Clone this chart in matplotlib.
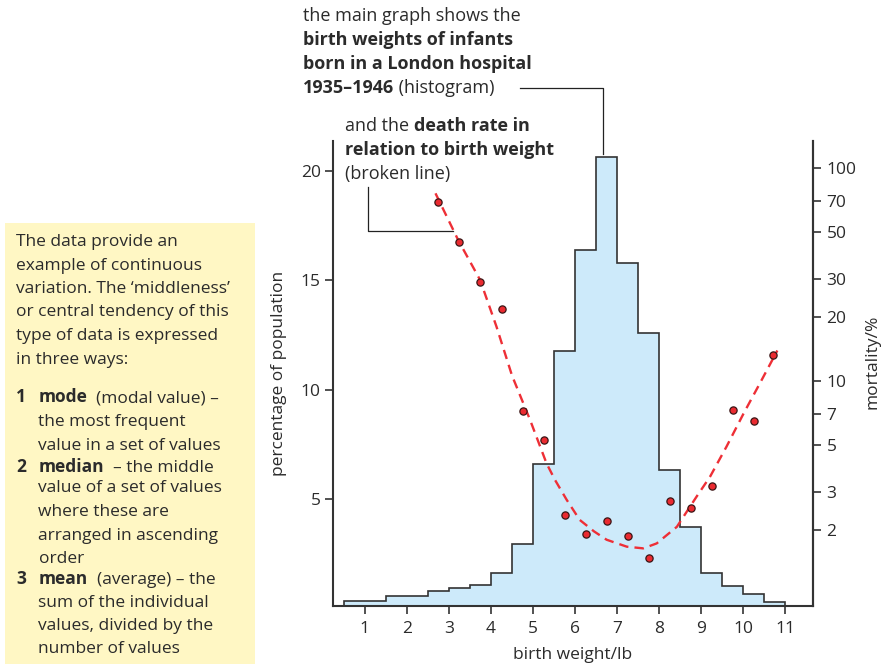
import matplotlib
matplotlib.use("Agg")
import matplotlib.pyplot as plt
from matplotlib.lines import Line2D
from matplotlib.patches import Rectangle
from matplotlib.ticker import FixedLocator, FixedFormatter, NullLocator

plt.rcParams['font.family'] = ['Open Sans', 'DejaVu Sans']

TXT = '#2b2b2b'
AX = '#333333'
BLUE = '#cdeafa'
RED = '#ee2f36'
YELLOW = '#fff7c4'

# ---------------- data ----------------
bin_edges = [0.5, 1.5, 2.5, 3, 3.5, 4, 4.5, 5, 5.5, 6, 6.5, 7, 7.5, 8, 8.5, 9, 9.5, 10, 10.5, 11]
percent_pop = [0.35, 0.57, 0.78, 0.92, 1.05, 1.60, 2.96, 6.61, 11.74, 16.36, 20.62,
               15.76, 12.57, 6.34, 3.72, 1.60, 1.04, 0.64, 0.31]

mort_x = [2.75, 3.25, 3.75, 4.25, 4.75, 5.25, 5.75, 6.25, 6.75, 7.25, 7.75,
          8.25, 8.75, 9.25, 9.75, 10.25, 10.7]
mort_pct = [69.3, 44.9, 29.2, 21.7, 7.21, 5.27, 2.34, 1.91, 2.21, 1.87, 1.47,
            2.74, 2.54, 3.22, 7.29, 6.52, 13.2]

curve_x = [2.68, 3.22, 3.74, 4.13, 4.50, 4.93, 5.32, 5.52, 5.80, 6.11, 6.45, 6.75,
           7.23, 7.62, 7.94, 8.42, 8.89, 9.21, 9.60, 10.0, 10.40, 10.81]
curve_pct = [75.9, 45.8, 29.8, 18.0, 10.6, 6.56, 4.11, 3.44, 2.77, 2.23, 1.97, 1.80,
             1.67, 1.64, 1.73, 2.07, 2.87, 3.56, 4.92, 7.0, 9.8, 13.9]

x_ticks = [1, 2, 3, 4, 5, 6, 7, 8, 9, 10, 11]
left_ticks = [5, 10, 15, 20]
right_ticks = [2, 3, 5, 7, 10, 20, 30, 50, 70, 100]

# ---------------- figure ----------------
W, H = 884, 664
fig = plt.figure(figsize=(W / 100, H / 100), dpi=100)

def fx(px):
    return px / W

def fy(py):
    return 1 - py / H

AX_L, AX_R, AX_T, AX_B = 333.3, 812.7, 140.7, 606
ax = fig.add_axes([fx(AX_L), fy(AX_B), fx(AX_R) - fx(AX_L), fy(AX_T) - fy(AX_B)])
ax.set_xlim(0.25, 11.65)
ax.set_ylim(0.11, 21.37)

ax.stairs(percent_pop, bin_edges, fill=True, color=BLUE, zorder=1)
ax.stairs(percent_pop, bin_edges, baseline=0, color=AX, linewidth=1.2, zorder=2)

ax.spines['top'].set_visible(False)
for s in ['left', 'bottom', 'right']:
    ax.spines[s].set_linewidth(1.5)
    ax.spines[s].set_color(AX)

ax.set_xticks(x_ticks)
ax.set_xticklabels([str(v) for v in x_ticks])
ax.set_yticks(left_ticks)
ax.set_yticklabels([str(v) for v in left_ticks])
ax.tick_params(axis='x', length=6, width=1.2, color=AX, labelsize=12.5, labelcolor=TXT, pad=5)
ax.tick_params(axis='y', length=6, width=1.2, color=AX, labelsize=12.5, labelcolor=TXT, pad=3)
ax.set_xlabel('birth weight/lb', fontsize=12.5, color=TXT, labelpad=7)
ax.set_ylabel('percentage of population', fontsize=12.5, color=TXT, labelpad=10)

ax2 = ax.twinx()
ax2.set_yscale('log')
ax2.set_ylim(0.88, 134)
ax2.yaxis.set_major_locator(FixedLocator(right_ticks))
ax2.yaxis.set_major_formatter(FixedFormatter([str(v) for v in right_ticks]))
ax2.yaxis.set_minor_locator(NullLocator())
ax2.tick_params(axis='y', length=6, width=1.2, color=AX, labelsize=12.5, labelcolor=TXT, pad=4)
for s in ['top', 'left', 'bottom']:
    ax2.spines[s].set_visible(False)
ax2.spines['right'].set_linewidth(1.5)
ax2.spines['right'].set_color(AX)
ax2.set_ylabel('mortality/%', fontsize=12.5, color=TXT)
ax2.yaxis.set_label_coords((872 - AX_L) / (AX_R - AX_L), (AX_B - 362) / (AX_B - AX_T))
ax2.yaxis.label.set_va('center')
ax2.yaxis.label.set_ha('center')

ax2.plot(curve_x, curve_pct, color=RED, linewidth=1.7, dashes=(4, 2.6), zorder=3)
ax2.plot(mort_x, mort_pct, linestyle='none', marker='o', markersize=5.2,
         markerfacecolor='#ea2a30', markeredgecolor='#3a1515', markeredgewidth=0.9, zorder=4)

# ---------------- yellow box ----------------
fig.add_artist(Rectangle((fx(5), fy(664)), fx(255) - fx(5), fy(222.7) - fy(664),
                         transform=fig.transFigure, facecolor=YELLOW, edgecolor='none', zorder=0))

renderer = fig.canvas.get_renderer()

def rich(x_px, y_px, pieces, size=12.5):
    x = x_px
    for txt, bold in pieces:
        t = fig.text(fx(x), fy(y_px), txt, fontsize=size,
                     fontweight='bold' if bold else 'normal',
                     va='baseline', ha='left', color=TXT, zorder=5)
        bb = t.get_window_extent(renderer)
        x += bb.width

BX = 16
BI = 38.5
box_lines = [
    (BX, 246, [('The data provide an', False)]),
    (BX, 269.5, [('example of continuous', False)]),
    (BX, 293, [('variation. The \u2018middleness\u2019', False)]),
    (BX, 316.5, [('or central tendency of this', False)]),
    (BX, 340, [('type of data is expressed', False)]),
    (BX, 363.5, [('in three ways:', False)]),
    (BI, 426, [('the most frequent', False)]),
    (BI, 449.5, [('value in a set of values', False)]),
    (BI, 492.5, [('value of a set of values', False)]),
    (BI, 516, [('where these are', False)]),
    (BI, 540, [('arranged in ascending', False)]),
    (BI, 563.3, [('order', False)]),
    (BI, 607, [('sum of the individual', False)]),
    (BI, 630, [('values, divided by the', False)]),
    (BI, 653.3, [('number of values', False)]),
]
for x, y, p in box_lines:
    rich(x, y, p)

for num, y, pieces in [
    ('1', 402.5, [('mode', True), ('  (modal value) \u2013', False)]),
    ('2', 472.3, [('median', True), ('  \u2013 the middle', False)]),
    ('3', 584, [('mean', True), ('  (average) \u2013 the', False)]),
]:
    rich(BX, y, [(num, True)])
    rich(BI, y, pieces)

# ---------------- annotations ----------------
AS = 13
rich(303, 21, [('the main graph shows the', False)], AS)
rich(303, 45, [('birth weights of infants', True)], AS)
rich(303, 69, [('born in a London hospital', True)], AS)
rich(303, 93, [('1935\u20131946', True), (' (histogram)', False)], AS)

rich(345, 131, [('and the ', False), ('death rate in', True)], AS)
rich(345, 155, [('relation to birth weight', True)], AS)
rich(345, 179, [('(broken line)', False)], AS)

def fig_line(xs, ys):
    fig.add_artist(Line2D([fx(v) for v in xs], [fy(v) for v in ys], transform=fig.transFigure,
                          color='#222222', linewidth=0.9, zorder=6))

fig_line([520, 603.3, 603.3], [88.3, 88.3, 154])
fig_line([368.3, 368.3, 452.7], [187.3, 231, 231])

fig.savefig('out.png', dpi=100)
